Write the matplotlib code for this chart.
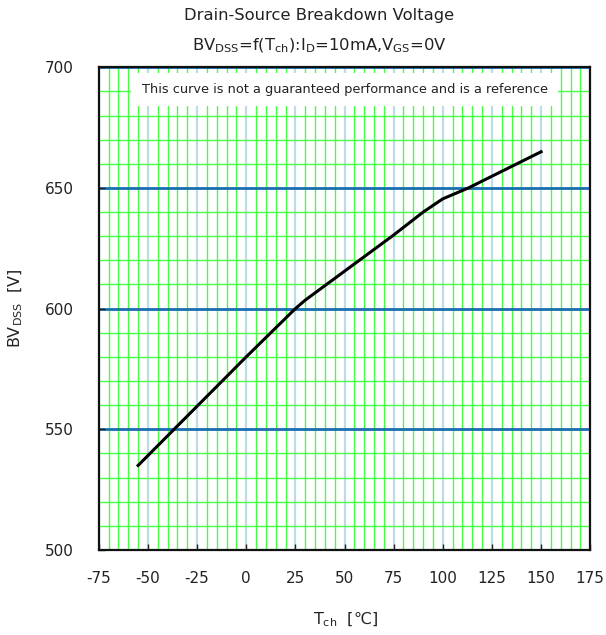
import matplotlib
matplotlib.use("Agg")
import matplotlib.pyplot as plt
from matplotlib.ticker import MultipleLocator

plt.rcParams['font.family'] = ['DejaVu Sans', 'Noto Sans CJK JP']
plt.rcParams['axes.unicode_minus'] = False

temp_c = [-55, 0, 25, 30, 50, 75, 90, 100, 113, 150]
bvdss_v = [535, 580, 600, 603.5, 615.5, 630.5, 640, 645.5, 650, 665]

x_ticks = [-75, -50, -25, 0, 25, 50, 75, 100, 125, 150, 175]
y_ticks = [500, 550, 600, 650, 700]

fig = plt.figure(figsize=(6.06, 6.35), dpi=100)
ax = fig.add_axes([0.163, 0.134, 0.811, 0.760])

ax.set_xlim(-75, 175)
ax.set_ylim(500, 700)
ax.set_xticks(x_ticks)
ax.set_yticks(y_ticks)
ax.xaxis.set_minor_locator(MultipleLocator(5))
ax.yaxis.set_minor_locator(MultipleLocator(10))

ax.grid(which='minor', axis='both', color='#44ff44', lw=1.0, zorder=0)
ax.grid(which='major', axis='x', color='#bcdde6', lw=1.6, zorder=1)
ax.grid(which='major', axis='y', color='#1a6fb0', lw=2.0, zorder=1)
ax.set_axisbelow(True)

ax.tick_params(which='major', direction='in', length=4, width=1, labelsize=11, colors='#222222')
ax.tick_params(axis='x', which='major', pad=15)
ax.tick_params(axis='y', which='major', pad=18)
ax.tick_params(which='minor', length=0)
for s in ax.spines.values():
    s.set_linewidth(1.6)
    s.set_color('#111111')

ax.plot(temp_c, bvdss_v, color='black', lw=2.2, zorder=5)

ax.text(50, 690.8, 'This curve is not a guaranteed performance and is a reference',
        ha='center', va='center', fontsize=9.3, color='#222222', zorder=6,
        bbox=dict(boxstyle='square,pad=0.8', fc='white', ec='none'))

fig.text(0.527, 0.975, 'Drain-Source Breakdown Voltage', ha='center', va='center', fontsize=11.8, color='#222222')
fig.text(0.527, 0.928,
         r'BV$_{\mathregular{DSS}}$=f(T$_{\mathregular{ch}}$):I$_{\mathregular{D}}$=10mA,V$_{\mathregular{GS}}$=0V',
         ha='center', va='center', fontsize=11.8, color='#222222')

ax.set_xlabel(r'T$_{\mathregular{ch}}$  [℃]', fontsize=11.5, color='#222222', va='center')
ax.xaxis.set_label_coords(0.501, -0.145)
ax.set_ylabel(r'BV$_{\mathregular{DSS}}$  [V]', fontsize=11.5, color='#222222', va='center')
ax.yaxis.set_label_coords(-0.168, 0.5)

fig.savefig('out.png', dpi=100)
